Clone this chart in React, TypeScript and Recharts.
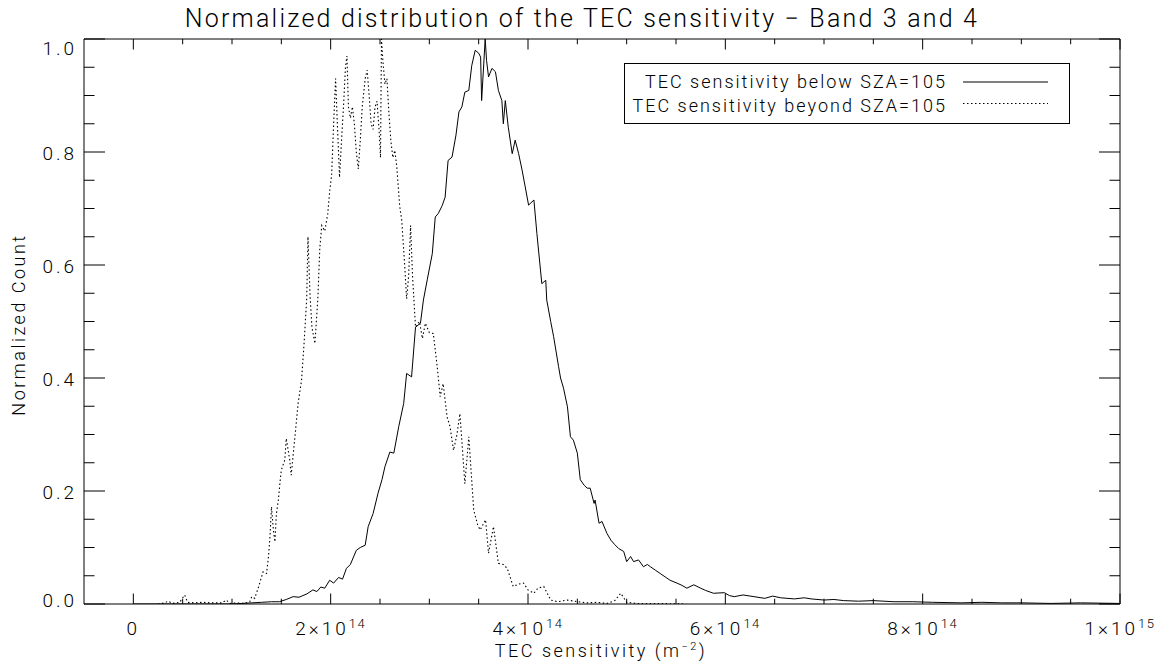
import React from "react";
import { LineChart, Line, XAxis, YAxis, Legend } from "recharts";

// x values are in units of 1e14 m^-2
const solidX = [
  0.0, 0.5, 1.0, 1.1, 1.2, 1.3, 1.4, 1.48, 1.55, 1.62, 1.68, 1.76, 1.82, 1.86, 1.9, 1.94, 1.99, 2.03, 2.08, 2.12,
  2.16, 2.2, 2.26, 2.3, 2.35, 2.38, 2.43, 2.48, 2.52, 2.55, 2.6, 2.64, 2.69, 2.74, 2.77, 2.82, 2.86, 2.91, 2.94, 2.98,
  3.03, 3.06, 3.09, 3.13, 3.16, 3.19, 3.23, 3.27, 3.3, 3.33, 3.36, 3.4, 3.43, 3.465, 3.5, 3.52, 3.53, 3.566, 3.58, 3.6,
  3.635, 3.67, 3.7, 3.735, 3.75, 3.77, 3.8, 3.84, 3.87, 3.905, 3.94, 3.97, 4.006, 4.06, 4.09, 4.14, 4.18, 4.19, 4.23, 4.26,
  4.31, 4.33, 4.36, 4.4, 4.43, 4.46, 4.5, 4.53, 4.57, 4.6, 4.63, 4.67, 4.68, 4.72, 4.75, 4.8, 4.84, 4.88, 4.92, 4.97,
  5.0, 5.04, 5.07, 5.12, 5.17, 5.21, 5.24, 5.29, 5.34, 5.39, 5.44, 5.51, 5.56, 5.61, 5.68, 5.75, 5.8, 5.88, 5.99, 6.04,
  6.09, 6.18, 6.29, 6.4, 6.48, 6.56, 6.7, 6.8, 6.87, 7.0, 7.1, 7.2, 7.35, 7.5, 7.71, 7.9, 8.1, 8.39, 8.6, 8.8,
  9.0, 9.3, 9.6, 10.0,
];
const solidY = [
  0.0, 0.0, 0.0, 0.001, 0.002, 0.003, 0.004, 0.004, 0.008, 0.013, 0.012, 0.018, 0.025, 0.022, 0.03, 0.028, 0.042, 0.037, 0.047, 0.044,
  0.063, 0.07, 0.095, 0.1, 0.104, 0.137, 0.16, 0.196, 0.22, 0.243, 0.269, 0.267, 0.314, 0.355, 0.408, 0.402, 0.49, 0.497, 0.538, 0.575,
  0.62, 0.685, 0.691, 0.705, 0.72, 0.785, 0.791, 0.83, 0.871, 0.88, 0.906, 0.909, 0.953, 0.98, 0.975, 0.968, 0.891, 1.0, 0.962, 0.933,
  0.948, 0.942, 0.909, 0.891, 0.85, 0.891, 0.844, 0.797, 0.821, 0.797, 0.768, 0.74, 0.706, 0.715, 0.656, 0.567, 0.573, 0.538, 0.5, 0.473,
  0.42, 0.4, 0.382, 0.349, 0.296, 0.29, 0.267, 0.22, 0.21, 0.205, 0.205, 0.178, 0.184, 0.143, 0.146, 0.125, 0.113, 0.105, 0.098, 0.093,
  0.075, 0.084, 0.075, 0.078, 0.066, 0.07, 0.066, 0.06, 0.054, 0.048, 0.042, 0.037, 0.033, 0.028, 0.034, 0.028, 0.024, 0.019, 0.02, 0.015,
  0.013, 0.016, 0.013, 0.01, 0.014, 0.011, 0.009, 0.011, 0.009, 0.007, 0.008, 0.006, 0.005, 0.006, 0.004, 0.004, 0.003, 0.002, 0.003, 0.002,
  0.002, 0.001, 0.002, 0.001,
];

const dottedX = [
  0.25, 0.32, 0.35, 0.4, 0.47, 0.52, 0.55, 0.62, 0.7, 0.8, 0.9, 0.94, 0.98, 1.05, 1.12, 1.18, 1.2, 1.23, 1.265, 1.315,
  1.35, 1.37, 1.385, 1.4, 1.42, 1.435, 1.45, 1.47, 1.485, 1.5, 1.535, 1.55, 1.585, 1.6, 1.64, 1.67, 1.705, 1.73, 1.757, 1.77,
  1.79, 1.81, 1.84, 1.87, 1.89, 1.91, 1.94, 1.97, 1.99, 2.01, 2.03, 2.05, 2.07, 2.09, 2.11, 2.13, 2.15, 2.165, 2.18, 2.2,
  2.22, 2.24, 2.26, 2.28, 2.3, 2.32, 2.35, 2.37, 2.39, 2.41, 2.43, 2.45, 2.47, 2.49, 2.505, 2.515, 2.53, 2.55, 2.57, 2.59,
  2.61, 2.63, 2.65, 2.67, 2.7, 2.72, 2.75, 2.77, 2.79, 2.81, 2.83, 2.86, 2.9, 2.93, 2.96, 3.0, 3.04, 3.08, 3.11, 3.14,
  3.18, 3.21, 3.245, 3.28, 3.31, 3.36, 3.4, 3.45, 3.49, 3.515, 3.57, 3.6, 3.65, 3.7, 3.75, 3.79, 3.85, 3.9, 3.955, 4.0,
  4.06, 4.1, 4.16, 4.23, 4.3, 4.4, 4.5, 4.6, 4.7, 4.8, 4.88, 4.94, 5.0, 5.1, 5.3, 5.6,
];
const dottedY = [
  0.0, 0.002, 0.005, 0.001, 0.003, 0.016, 0.003, 0.002, 0.003, 0.002, 0.002, 0.007, 0.001, 0.002, 0.001, 0.004, 0.013, 0.01, 0.028, 0.057,
  0.054, 0.084, 0.119, 0.172, 0.13, 0.11, 0.16, 0.184, 0.213, 0.237, 0.255, 0.293, 0.255, 0.228, 0.3, 0.355, 0.396, 0.46, 0.54, 0.65,
  0.55, 0.49, 0.461, 0.54, 0.63, 0.67, 0.66, 0.69, 0.73, 0.76, 0.85, 0.93, 0.84, 0.755, 0.82, 0.88, 0.95, 0.97, 0.88, 0.86,
  0.88, 0.85, 0.8, 0.77, 0.82, 0.88, 0.93, 0.945, 0.9, 0.85, 0.84, 0.88, 0.89, 0.84, 0.79, 1.0, 0.96, 0.92, 0.93, 0.87,
  0.82, 0.79, 0.803, 0.774, 0.703, 0.68, 0.6, 0.54, 0.58, 0.67, 0.58, 0.49, 0.5, 0.47, 0.497, 0.48, 0.479, 0.42, 0.367, 0.39,
  0.331, 0.314, 0.272, 0.3, 0.337, 0.213, 0.296, 0.166, 0.14, 0.131, 0.149, 0.09, 0.137, 0.072, 0.07, 0.063, 0.031, 0.035, 0.037, 0.025,
  0.019, 0.028, 0.031, 0.007, 0.004, 0.007, 0.004, 0.002, 0.003, 0.001, 0.006, 0.019, 0.003, 0.001, 0.001, 0.0,
];

const seriesNames = ["TEC sensitivity below SZA=105", "TEC sensitivity beyond SZA=105"];

const xTicks = [0, 0.5, 1, 1.5, 2, 2.5, 3, 3.5, 4, 4.5, 5, 5.5, 6, 6.5, 7, 7.5, 8, 8.5, 9, 9.5, 10];
const xMajorTicks = [0, 2, 4, 6, 8, 10];
const xTickMantissa = ["0", "2×10", "4×10", "6×10", "8×10", "1×10"];
const xTickExponent = ["", "14", "14", "14", "14", "15"];

const yTicks = [0, 0.05, 0.1, 0.15, 0.2, 0.25, 0.3, 0.35, 0.4, 0.45, 0.5, 0.55, 0.6, 0.65, 0.7, 0.75, 0.8, 0.85, 0.9, 0.95, 1];
const yMajorTicks = [0, 0.2, 0.4, 0.6, 0.8, 1];
const yTickLabels = ["0.0", "0.2", "0.4", "0.6", "0.8", "1.0"];

const solidData = solidX.map((x, i) => ({ x, y: solidY[i] }));
const dottedData = dottedX.map((x, i) => ({ x, y: dottedY[i] }));

const FONT = "Roboto, 'DejaVu Sans', sans-serif";
const INK = "#000";
const txt = { fontFamily: FONT, fontWeight: 300, fill: INK } as const;

const majorIndex = (v: number, majors: number[]) => majors.findIndex((m) => Math.abs(m - v) < 1e-9);

function BottomTick(props: any) {
  const { x, y, payload } = props;
  const i = majorIndex(payload.value, xMajorTicks);
  const len = i >= 0 ? 10.5 : 5.3;
  return (
    <g>
      <line x1={x} x2={x} y1={y} y2={y - len} stroke={INK} />
      {i >= 0 && (
        <text x={x} y={y + 31} textAnchor="middle" fontSize={19} letterSpacing={3} style={txt}>
          <tspan>{xTickMantissa[i]}</tspan>
          {xTickExponent[i] && (
            <tspan dy={-7} fontSize={13} letterSpacing={1.5}>
              {xTickExponent[i]}
            </tspan>
          )}
        </text>
      )}
    </g>
  );
}

function TopTick(props: any) {
  const { x, y, payload } = props;
  const len = majorIndex(payload.value, xMajorTicks) >= 0 ? 10.5 : 5.3;
  return <line x1={x} x2={x} y1={y} y2={y + len} stroke={INK} />;
}

function LeftTick(props: any) {
  const { x, y, payload } = props;
  const v = payload.value;
  const i = majorIndex(v, yMajorTicks);
  const len = i >= 0 ? 21 : 10.5;
  let ty = y + 1.5;
  if (v === 1) ty = y + 9;
  if (v === 0) ty = y - 4;
  return (
    <g>
      <line x1={x} x2={x + len} y1={y} y2={y} stroke={INK} />
      {i >= 0 && (
        <text x={x - 7} y={ty} textAnchor="end" dominantBaseline="central" fontSize={19} letterSpacing={3} style={txt}>
          {yTickLabels[i]}
        </text>
      )}
    </g>
  );
}

function RightTick(props: any) {
  const { x, y, payload } = props;
  const len = majorIndex(payload.value, yMajorTicks) >= 0 ? 21 : 10.5;
  return <line x1={x} x2={x - len} y1={y} y2={y} stroke={INK} />;
}

function TitleLabel(props: any) {
  const vb = props.viewBox;
  return (
    <text x={vb.x + vb.width / 2 - 20} y={27} textAnchor="middle" fontSize={25} letterSpacing={2.2} style={txt}>
      Normalized distribution of the TEC sensitivity − Band 3 and 4
    </text>
  );
}

function XTitle(props: any) {
  const vb = props.viewBox;
  return (
    <text x={vb.x + vb.width / 2 - 1} y={vb.y + 53} textAnchor="middle" fontSize={18} letterSpacing={2.5} style={txt}>
      <tspan>TEC sensitivity (m</tspan>
      <tspan dy={-7} fontSize={11}>−2</tspan>
      <tspan dy={7}>)</tspan>
    </text>
  );
}

function YTitle(props: any) {
  const vb = props.viewBox;
  const cx = 25;
  const cy = vb.y + vb.height / 2 + 3;
  return (
    <text x={cx} y={cy} transform={`rotate(-90 ${cx} ${cy})`} textAnchor="middle" fontSize={18} letterSpacing={2.5} style={txt}>
      Normalized Count
    </text>
  );
}

function LegendBox(props: any) {
  const payload = props.payload ?? [];
  return (
    <svg width={446} height={61} style={{ display: "block" }}>
      <rect x={0.5} y={0.5} width={445} height={60} fill="#fff" stroke={INK} />
      {payload.map((e: any, i: number) => (
        <g key={i}>
          <text x={323} y={25 + i * 24} textAnchor="end" fontSize={18} letterSpacing={2} style={txt}>
            {e.value}
          </text>
          <line
            x1={339}
            x2={424}
            y1={19 + i * 21.5}
            y2={19 + i * 21.5}
            stroke={INK}
            strokeWidth={1}
            strokeDasharray={e.payload?.strokeDasharray}
          />
        </g>
      ))}
    </svg>
  );
}

export default function App() {
  return (
    <div style={{ position: "absolute", left: 0, top: 0, width: 1161, height: 668, background: "#fff" }}>
      <LineChart width={1161} height={668} margin={{ top: 0, right: 0, bottom: 0, left: 0 }}>
        <XAxis
          xAxisId="bottom"
          dataKey="x"
          type="number"
          domain={[-0.5, 10]}
          allowDataOverflow
          ticks={xTicks}
          interval={0}
          tickSize={0}
          tickMargin={0}
          tickLine={false}
          tick={<BottomTick />}
          axisLine={{ stroke: INK }}
          height={64}
          label={<XTitle />}
        />
        <XAxis
          xAxisId="top"
          orientation="top"
          dataKey="x"
          type="number"
          domain={[-0.5, 10]}
          allowDataOverflow
          ticks={xTicks}
          interval={0}
          tickSize={0}
          tickMargin={0}
          tickLine={false}
          tick={<TopTick />}
          axisLine={{ stroke: INK }}
          height={39}
          label={<TitleLabel />}
        />
        <YAxis
          yAxisId="left"
          type="number"
          domain={[0, 1]}
          allowDataOverflow
          ticks={yTicks}
          interval={0}
          tickSize={0}
          tickMargin={0}
          tickLine={false}
          tick={<LeftTick />}
          axisLine={{ stroke: INK }}
          width={84}
          label={<YTitle />}
        />
        <YAxis
          yAxisId="right"
          orientation="right"
          type="number"
          domain={[0, 1]}
          allowDataOverflow
          ticks={yTicks}
          interval={0}
          tickSize={0}
          tickMargin={0}
          tickLine={false}
          tick={<RightTick />}
          axisLine={{ stroke: INK }}
          width={41}
        />
        <Line
          xAxisId="bottom"
          yAxisId="left"
          data={solidData}
          dataKey="y"
          name={seriesNames[0]}
          type="linear"
          stroke={INK}
          strokeWidth={1}
          dot={false}
          isAnimationActive={false}
        />
        <Line
          xAxisId="bottom"
          yAxisId="left"
          data={dottedData}
          dataKey="y"
          name={seriesNames[1]}
          type="linear"
          stroke={INK}
          strokeWidth={1.1}
          strokeDasharray="1.5 2.5"
          dot={false}
          isAnimationActive={false}
        />
        <Legend
          layout="vertical"
          align="center"
          verticalAlign="middle"
          content={<LegendBox />}
          wrapperStyle={{ position: "absolute", left: 624, top: 63, width: 446, height: 61 }}
        />
      </LineChart>
    </div>
  );
}
